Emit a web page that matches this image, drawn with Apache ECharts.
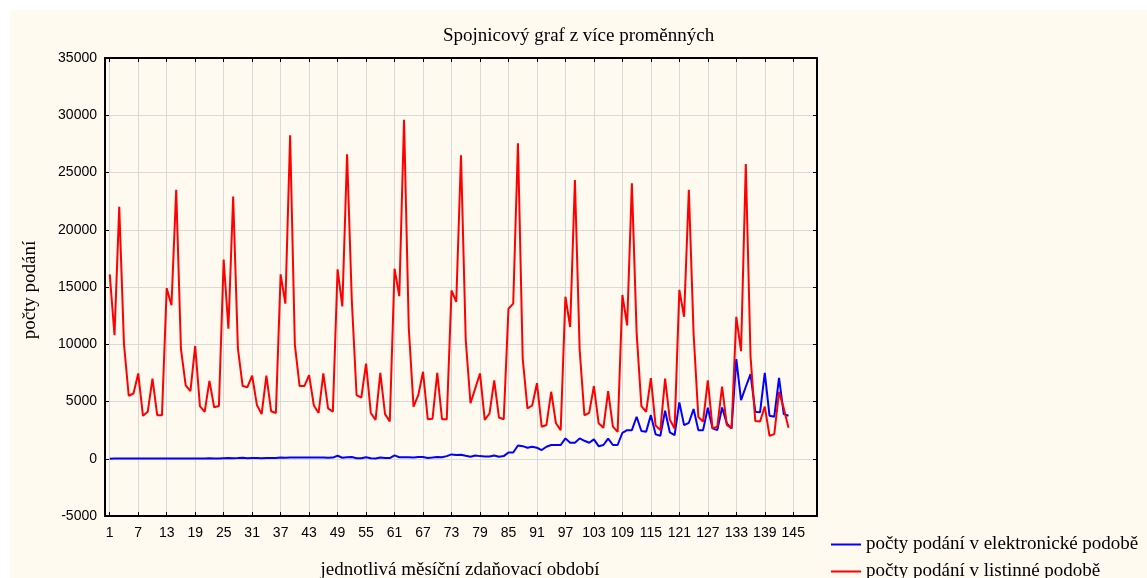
<!DOCTYPE html>
<html>
<head>
<meta charset="utf-8">
<script src="https://cdn.jsdelivr.net/npm/echarts@6/dist/echarts.min.js"></script>
<style>
    html, body { margin: 0; padding: 0; background: #fff; }
    #chart {
        position: absolute;
        left: 10px;
        top: 10px;
        width: 1137px;
        height: 568px;
        background: #fefaf0;
    }
</style>
</head>
<body>
<div id="chart"></div>
<script>
// month numbers on the x axis (0..150, labelled 1, 7, 13 ... 145)
const months = Array.from({ length: 151 }, (_, i) => String(i));
const tickStep = 6;

// počty podání v elektronické podobě, months 1..144
const electronic = [
    10, 15, 20, 15, 30, 20, 20, 15, 20, 25, 20, 20,
    25, 30, 25, 30, 25, 30, 30, 25, 30, 35, 30, 30,
    50, 70, 50, 60, 80, 50, 60, 60, 50, 70, 60, 60,
    110, 90, 100, 110, 120, 100, 100, 120, 100, 110, 90, 100,
    260, 90, 130, 150, 40, 40, 130, 40, 20, 100, 60, 60,
    290, 130, 130, 130, 100, 150, 150, 60, 100, 150, 130, 230,
    380, 320, 350, 260, 180, 290, 230, 200, 200, 290, 180, 230,
    550, 550, 1160, 1100, 960, 1050, 960, 760, 1050, 1200, 1200, 1200,
    1780, 1400, 1400, 1780, 1570, 1400, 1690, 1100, 1200, 1750, 1200, 1200,
    2270, 2500, 2500, 3670, 2420, 2360, 3810, 2130, 2010, 4190, 2300, 2070,
    4920, 2940, 3140, 4340, 2500, 2500, 4450, 2650, 2500, 4480, 3090, 2650,
    8700, 5120, 6290, 7390, 4100, 4050, 7500, 3750, 3670, 7070, 3900, 3750
];

// počty podání v listinné podobě, months 1..144
const paper = [
    16100, 10800, 22000, 10000, 5500, 5700, 7450, 3750, 4100, 7000, 3800, 3800,
    14900, 13400, 23500, 9600, 6400, 5900, 9850, 4600, 4100, 6800, 4500, 4600,
    17400, 11350, 22900, 9650, 6350, 6250, 7250, 4700, 3900, 7250, 4150, 4000,
    16100, 13550, 28250, 9950, 6350, 6350, 7300, 4650, 4000, 7450, 4400, 4100,
    16550, 13300, 26600, 13800, 5550, 5350, 8300, 4000, 3400, 7500, 3900, 3250,
    16600, 14200, 29600, 11400, 4550, 5550, 7600, 3450, 3500, 7500, 3450, 3450,
    14700, 13700, 26500, 10350, 4850, 6150, 7450, 3400, 3950, 6850, 3600, 3450,
    13100, 13550, 27550, 8750, 4400, 4650, 6600, 2800, 2950, 5850, 3100, 2500,
    14150, 11500, 24350, 9500, 3800, 4000, 6350, 3100, 2700, 5900, 2800, 2350,
    14300, 11650, 24050, 11000, 4600, 4100, 7050, 2900, 2500, 7000, 3400, 2650,
    14750, 12400, 23500, 10950, 3650, 3250, 6850, 2650, 2800, 6300, 2950, 2650,
    12400, 9400, 25750, 8900, 3300, 3250, 4550, 2000, 2150, 5850, 4400, 2700
];

const seriesNames = ['počty podání v elektronické podobě', 'počty podání v listinné podobě'];

const yMin = -5000;
const yMax = 35000;
const yStep = 5000;

const serif = '"Liberation Serif", "DejaVu Serif", serif';
const sans = '"Liberation Sans Narrow", "Liberation Sans", Arial, sans-serif';

const chart = echarts.init(document.getElementById('chart'));

const showTick = (index, value) => (Number(value) - 1) % tickStep === 0;

const xBase = {
    type: 'category',
    data: months,
    boundaryGap: false,
    axisLine: { show: true, onZero: false, lineStyle: { color: '#000', width: 2 } },
    axisTick: { show: true, inside: true, length: 4, interval: showTick, lineStyle: { color: '#000', width: 1 } }
};

const yBase = {
    type: 'value',
    min: yMin,
    max: yMax,
    interval: yStep,
    axisLine: { show: true, lineStyle: { color: '#000', width: 2 } },
    axisTick: { show: true, inside: true, length: 4, lineStyle: { color: '#000', width: 1 } }
};

const toPairs = arr => arr.map((v, i) => [String(i + 1), v]);

// one legend per row, so both rows fit in the bottom-right corner
const legendRow = (name, top) => ({
    orient: 'vertical',
    left: 816,
    top: top,
    itemWidth: 30,
    itemHeight: 2,
    icon: 'rect',
    textStyle: { color: '#000', fontFamily: serif, fontSize: 19 },
    data: [name]
});

const option = {
    animation: false,
    grid: { left: 95, top: 48, width: 712, height: 458 },
    xAxis: [
        Object.assign({}, xBase, {
            position: 'bottom',
            axisLabel: {
                interval: showTick,
                color: '#000',
                fontFamily: sans,
                fontSize: 14,
                margin: 10
            },
            splitLine: { show: true, interval: showTick, lineStyle: { color: '#d9d9d9', width: 1 } }
        }),
        Object.assign({}, xBase, {
            position: 'top',
            axisLabel: { show: false },
            splitLine: { show: false }
        })
    ],
    yAxis: [
        Object.assign({}, yBase, {
            position: 'left',
            axisLabel: {
                color: '#000',
                fontFamily: sans,
                fontSize: 14,
                margin: 8,
                formatter: v => String(v)
            },
            splitLine: { show: true, lineStyle: { color: '#d9d9d9', width: 1 } }
        }),
        Object.assign({}, yBase, {
            position: 'right',
            axisLabel: { show: false },
            splitLine: { show: false }
        })
    ],
    legend: [
        legendRow(seriesNames[0], 520),
        legendRow(seriesNames[1], 547)
    ],
    graphic: [
        {
            type: 'text',
            left: 433,
            top: 17,
            style: { text: 'Spojnicový graf z více proměnných', font: '19px ' + serif, fill: '#000' }
        },
        {
            type: 'text',
            x: 20,
            y: 280,
            rotation: Math.PI / 2,
            style: {
                text: 'počty podání',
                font: '19px ' + serif,
                fill: '#000',
                align: 'center',
                verticalAlign: 'middle'
            }
        },
        {
            type: 'text',
            x: 450,
            y: 560,
            style: {
                text: 'jednotlivá měsíční zdaňovací období',
                font: '19px ' + serif,
                fill: '#000',
                align: 'center',
                verticalAlign: 'middle'
            }
        }
    ],
    series: [
        {
            name: seriesNames[0],
            type: 'line',
            data: toPairs(electronic),
            showSymbol: false,
            symbol: 'none',
            lineStyle: { color: '#0000ff', width: 2 },
            itemStyle: { color: '#0000ff' }
        },
        {
            name: seriesNames[1],
            type: 'line',
            data: toPairs(paper),
            showSymbol: false,
            symbol: 'none',
            lineStyle: { color: '#ff0000', width: 2 },
            itemStyle: { color: '#ff0000' }
        }
    ]
};

chart.setOption(option);
</script>
</body>
</html>
